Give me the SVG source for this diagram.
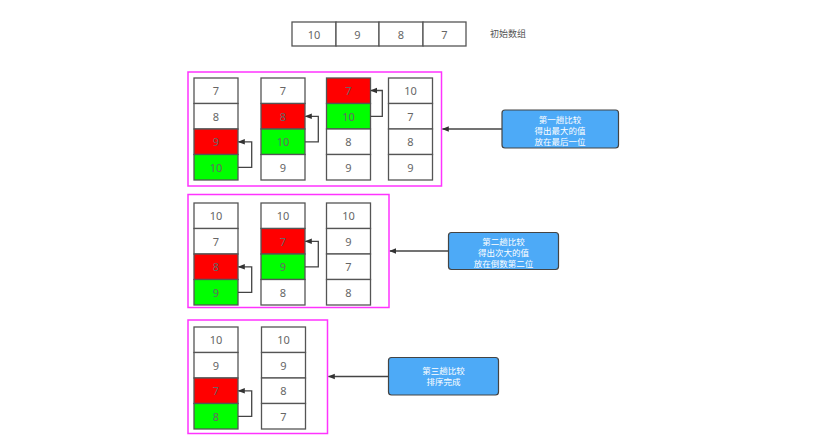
<svg xmlns="http://www.w3.org/2000/svg" width="832" height="444" viewBox="0 0 832 444">
<style>
.c{fill:#fff;stroke:#555;stroke-width:1.3}
.r{fill:#ff0000;stroke:#555;stroke-width:1.3}
.g{fill:#00ff00;stroke:#555;stroke-width:1.3}
.t{font-family:"Noto Sans","Liberation Sans","Noto Sans CJK SC",sans-serif;font-size:11px;fill:#666;text-anchor:middle;dominant-baseline:central}
.b{fill:none;stroke:#ff33ff;stroke-width:1.5}
.n{fill:#4daaf7;stroke:#444;stroke-width:1.2}
.w{font-family:"Noto Sans CJK SC","Liberation Sans",sans-serif;font-size:8.5px;fill:#fff;text-anchor:middle}
.l{fill:none;stroke:#444;stroke-width:1.3}
.k{font-family:"Noto Sans CJK SC","Liberation Sans",sans-serif;font-size:9px;fill:#555}
</style>
<defs>
<marker id="a" viewBox="0 0 10 10" refX="9" refY="5" markerWidth="7" markerHeight="7" orient="auto" markerUnits="userSpaceOnUse">
<path d="M0,1 L10,5 L0,9 Z" fill="#333"/>
</marker>
</defs>
<rect width="832" height="444" fill="#fff"/>

<g id="initial">
<rect class="c" x="292" y="22" width="44" height="24"/><text class="t" x="314" y="34">10</text>
<rect class="c" x="336" y="22" width="43" height="24"/><text class="t" x="357.5" y="34">9</text>
<rect class="c" x="379" y="22" width="44" height="24"/><text class="t" x="401" y="34">8</text>
<rect class="c" x="423" y="22" width="43" height="24"/><text class="t" x="444.5" y="34">7</text>
<text class="k" x="490" y="37">初始数组</text>
</g>

<g id="pass1">
<rect class="b" x="188" y="72" width="253.5" height="114"/>
<g id="p1c1">
<rect class="c" x="194" y="78" width="44" height="25.5"/><text class="t" x="216" y="90.8">7</text>
<rect class="c" x="194" y="103.5" width="44" height="25.5"/><text class="t" x="216" y="116.3">8</text>
<rect class="r" x="194" y="129" width="44" height="25.5"/><text class="t" x="216" y="141.8">9</text>
<rect class="g" x="194" y="154.5" width="44" height="25.5"/><text class="t" x="216" y="167.3">10</text>
</g>
<g id="p1c2">
<rect class="c" x="261" y="78" width="44" height="25.5"/><text class="t" x="283" y="90.8">7</text>
<rect class="r" x="261" y="103.5" width="44" height="25.5"/><text class="t" x="283" y="116.3">8</text>
<rect class="g" x="261" y="129" width="44" height="25.5"/><text class="t" x="283" y="141.8">10</text>
<rect class="c" x="261" y="154.5" width="44" height="25.5"/><text class="t" x="283" y="167.3">9</text>
</g>
<g id="p1c3">
<rect class="r" x="326.5" y="78" width="44" height="25.5"/><text class="t" x="348.5" y="90.8">7</text>
<rect class="g" x="326.5" y="103.5" width="44" height="25.5"/><text class="t" x="348.5" y="116.3">10</text>
<rect class="c" x="326.5" y="129" width="44" height="25.5"/><text class="t" x="348.5" y="141.8">8</text>
<rect class="c" x="326.5" y="154.5" width="44" height="25.5"/><text class="t" x="348.5" y="167.3">9</text>
</g>
<g id="p1c4">
<rect class="c" x="388.5" y="78" width="44" height="25.5"/><text class="t" x="410.5" y="90.8">10</text>
<rect class="c" x="388.5" y="103.5" width="44" height="25.5"/><text class="t" x="410.5" y="116.3">7</text>
<rect class="c" x="388.5" y="129" width="44" height="25.5"/><text class="t" x="410.5" y="141.8">8</text>
<rect class="c" x="388.5" y="154.5" width="44" height="25.5"/><text class="t" x="410.5" y="167.3">9</text>
</g>
</g>

<g id="pass2">
<rect class="b" x="188" y="194.5" width="201" height="113"/>
<g id="p2c1">
<rect class="c" x="194" y="203" width="44" height="25.5"/><text class="t" x="216" y="215.8">10</text>
<rect class="c" x="194" y="228.5" width="44" height="25.5"/><text class="t" x="216" y="241.3">7</text>
<rect class="r" x="194" y="254" width="44" height="25.5"/><text class="t" x="216" y="266.8">8</text>
<rect class="g" x="194" y="279.5" width="44" height="25.5"/><text class="t" x="216" y="292.3">9</text>
</g>
<g id="p2c2">
<rect class="c" x="261" y="203" width="44" height="25.5"/><text class="t" x="283" y="215.8">10</text>
<rect class="r" x="261" y="228.5" width="44" height="25.5"/><text class="t" x="283" y="241.3">7</text>
<rect class="g" x="261" y="254" width="44" height="25.5"/><text class="t" x="283" y="266.8">9</text>
<rect class="c" x="261" y="279.5" width="44" height="25.5"/><text class="t" x="283" y="292.3">8</text>
</g>
<g id="p2c3">
<rect class="c" x="326.5" y="203" width="44" height="25.5"/><text class="t" x="348.5" y="215.8">10</text>
<rect class="c" x="326.5" y="228.5" width="44" height="25.5"/><text class="t" x="348.5" y="241.3">9</text>
<rect class="c" x="326.5" y="254" width="44" height="25.5"/><text class="t" x="348.5" y="266.8">7</text>
<rect class="c" x="326.5" y="279.5" width="44" height="25.5"/><text class="t" x="348.5" y="292.3">8</text>
</g>
</g>

<g id="pass3">
<rect class="b" x="188" y="320" width="139.5" height="113.5"/>
<g id="p3c1">
<rect class="c" x="194" y="327" width="44" height="25.5"/><text class="t" x="216" y="339.8">10</text>
<rect class="c" x="194" y="352.5" width="44" height="25.5"/><text class="t" x="216" y="365.3">9</text>
<rect class="r" x="194" y="378" width="44" height="25.5"/><text class="t" x="216" y="390.8">7</text>
<rect class="g" x="194" y="403.5" width="44" height="25.5"/><text class="t" x="216" y="416.3">8</text>
</g>
<g id="p3c2">
<rect class="c" x="261.5" y="327" width="44" height="25.5"/><text class="t" x="283.5" y="339.8">10</text>
<rect class="c" x="261.5" y="352.5" width="44" height="25.5"/><text class="t" x="283.5" y="365.3">9</text>
<rect class="c" x="261.5" y="378" width="44" height="25.5"/><text class="t" x="283.5" y="390.8">8</text>
<rect class="c" x="261.5" y="403.5" width="44" height="25.5"/><text class="t" x="283.5" y="416.3">7</text>
</g>
</g>

<g id="note1">
<rect class="n" x="502" y="110" width="116.5" height="38" rx="3"/>
<text class="w" x="560" y="123">第一趟比较</text>
<text class="w" x="560" y="134">得出最大的值</text>
<text class="w" x="560" y="145">放在最后一位</text>
</g>
<g id="note2">
<rect class="n" x="448.5" y="232.5" width="110" height="37" rx="3"/>
<text class="w" x="503.5" y="245">第二趟比较</text>
<text class="w" x="503.5" y="256">得出次大的值</text>
<text class="w" x="503.5" y="267">放在倒数第二位</text>
</g>
<g id="note3">
<rect class="n" x="388.5" y="357.5" width="110" height="37.5" rx="3"/>
<text class="w" x="443.5" y="374">第三趟比较</text>
<text class="w" x="443.5" y="385">排序完成</text>
</g>

<g id="connectors">
<path class="l" d="M238,167.3 H251.7 V141.8 H238.5" marker-end="url(#a)"/>
<path class="l" d="M305,141.8 H318.3 V116.3 H305.5" marker-end="url(#a)"/>
<path class="l" d="M370.5,116.3 H382.3 V90.5 H371" marker-end="url(#a)"/>
<path class="l" d="M238,292.3 H251.7 V266.8 H238.5" marker-end="url(#a)"/>
<path class="l" d="M305,266.8 H318.3 V241.3 H305.5" marker-end="url(#a)"/>
<path class="l" d="M238,416.3 H251.7 V390.8 H238.5" marker-end="url(#a)"/>
<path class="l" d="M502,129 H442.5" marker-end="url(#a)"/>
<path class="l" d="M448.5,251 H390" marker-end="url(#a)"/>
<path class="l" d="M388.5,376.5 H328.5" marker-end="url(#a)"/>
</g>
</svg>
